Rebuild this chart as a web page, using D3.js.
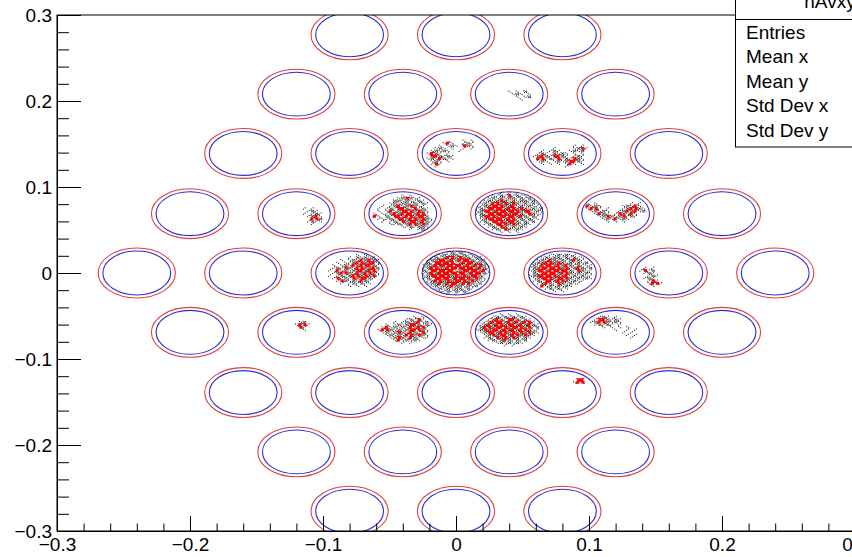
<!DOCTYPE html>
<html>
<head>
<meta charset="utf-8">
<script src="https://cdn.jsdelivr.net/npm/d3@7"></script>
<style>
body { margin: 0; background: #fff; }
svg { display: block; }
text { font-family: "Liberation Sans", Arial, sans-serif; }
</style>
</head>
<body>
<script>
// hexagonal cell layout (data units)
const rowY = [0.277, 0.208, 0.139, 0.069, 0, -0.069, -0.139, -0.208, -0.277]
const rowX = [
    [-0.08, 0, 0.08],
    [-0.12, -0.04, 0.04, 0.12],
    [-0.16, -0.08, 0, 0.08, 0.16],
    [-0.2, -0.12, -0.04, 0.04, 0.12, 0.2],
    [-0.24, -0.16, -0.08, 0, 0.08, 0.16, 0.24],
    [-0.2, -0.12, -0.04, 0.04, 0.12, 0.2],
    [-0.16, -0.08, 0, 0.08, 0.16],
    [-0.12, -0.04, 0.04, 0.12],
    [-0.08, 0, 0.08]
]
const outerR = 0.029
const innerR = 0.0255

const majorTicks = [-0.3, -0.2, -0.1, 0, 0.1, 0.2, 0.3]
const minorTicks = [-0.28, -0.26, -0.24, -0.22, -0.18, -0.16, -0.14, -0.12, -0.08, -0.06, -0.04, -0.02,
    0.02, 0.04, 0.06, 0.08, 0.12, 0.14, 0.16, 0.18, 0.22, 0.24, 0.26, 0.28]

const statsTitle = 'hAvxy'
const statsLabels = ['Entries', 'Mean x', 'Mean y', 'Std Dev x', 'Std Dev y']

// hit maps per cell, 0.003 bins around the cell centre
// '.' empty, ':' few hits, '#' many hits, 'r' red hits
const binW = 0.003
const hits = [
    { x: 0, y: 0, top: 0, rows: [
        "......:#:#:......",
        "...::#:##:#::....",
        "..:#:#rr#r##:#:..",
        ".:##rr#r#rrr#:#:.",
        ".#:rrrrr:#rrr##:.",
        ":##rrrrrrr#r#rr#:",
        ":#rr##rrrrrrr#r#:",
        "#:rrrrrr:#rrrr#r:",
        ":#r#rrrrrrr#rrr#:",
        ":#rrrrr#r#r#rr#:.",
        ":#:rrrr#rrrr#r#:.",
        ".:#rr#r#rrr#r#::.",
        ".:##r#rrr#rr#:#..",
        "..:#:##r##:#:#...",
        "...:#:#:##:#:....",
        "....::#:#:#:.....",
        "......:.:.:......"] },
    { x: -0.04, y: 0.069, top: 0, rows: [
        ".................",
        "........:.:......",
        ".......:#r#::....",
        "......##:#::#:...",
        ".....:#:##:#:#:..",
        "...:.:#r:#r#::...",
        "..:.:#:rr#:r:#:..",
        "..:.:r:#rrr#r#:..",
        ".:.::#r#rrr#rr:..",
        ".r:.#:rr#rr#rr#..",
        "..:::#:rr#rr#r#:.",
        "...:.:#:r#rr#r#:.",
        ".....::#:#rr#r#..",
        "........::#:##:..",
        "..........:.:#..."] },
    { x: 0.04, y: 0.069, top: 0, rows: [
        "......:.:.:......",
        "....::#:r:#::....",
        "...:#:#:##:#:#...",
        "..:#:#r#:#:##:#..",
        ".:#:rr#r#r#:#:#:.",
        ".:##rrr##r:#:#::.",
        ":#:rrrr#rr#r#:#:#.",
        ":#rr#rrrrrr#rr:#:",
        ":#:rrrrr#rr#:r#::",
        ".#rrr#rrrr#r#:#:.",
        ".:#rrrr#rr:#:#::.",
        ".:#:rrr#rr#:#:#..",
        "..:#:rrr#r#:#:...",
        "...:#:r#:#:#:....",
        "....:#:r#:#:.....",
        "......:.:.:......"] },
    { x: -0.08, y: 0, top: 0, rows: [
        ".................",
        "..........:.:....",
        "........:.#:#::..",
        "......:.:#:r#r#:.",
        ".....:.::#rr#rr:.",
        "....:.:#:r#rrr#:.",
        "....:#:r#:rr##r#.",
        "...:.r:#:#rr#rr:.",
        "....:#rr#:r#rr#:.",
        "...:.:#:#rr#r#r:.",
        "....:r:#:r#rr#:..",
        ".....:r#:#:r#:...",
        "......:.:#:#::...",
        "........:.:.:...."] },
    { x: 0.08, y: 0, top: 0, rows: [
        ".................",
        ".....::#:#::.....",
        "...:#:##:#:#::...",
        "..:#:r#:#:#r#:...",
        ".:##rr#r#:#:#:#..",
        ".#:rrr#r#r#:#:::.",
        ":##rrrrr#r:#r#:#.",
        ":#rr#rrrrr#:r#::.",
        ".#:rrrr#rr#:#:#:.",
        ":#rrrrr##r:#:#::.",
        ".:#rrr#rrr#:#:#:.",
        ".:#:rr#rr#:#::...",
        "..:#r#:r#:#::....",
        "...r:#:#:#:......",
        "....:#:#::.......",
        "......:.:........"] },
    { x: 0, y: 0.139, top: 3, rows: [
        "..........:.:....",
        ".....:r:..:#:....",
        "....:.:#:.r#:....",
        "...:#:.:..:.:....",
        "..:#:#:..:.......",
        ".:r#:.:..........",
        "..rr#:#:.........",
        ".:#:r#::.........",
        "..:#:.:..........",
        "..:r:............",
        "...:............."] },
    { x: 0.08, y: 0.139, top: 5, rows: [
        "...........:.:...",
        "......:....:#r:..",
        "...:.:#:..:#:#...",
        "..:#:.#:#:.:.:...",
        ".:#r#:rr#:.:#:...",
        "..rr:#:r:#:r#:...",
        "..:#:.:#:#rr#:...",
        "...:.:.:.:r:.:...",
        ".........:......."] },
    { x: 0.12, y: 0.069, top: 4, rows: [
        ".:.:........:.:..",
        ".r:#:.....:#:r:..",
        ".:rr:.:...:#rr#:.",
        "..:#:#:..:#r#r:#.",
        "...:r#:.:r#:r:...",
        "....:#r#:#r:#:...",
        ".....:#:r:#:.....",
        "......:.:.:......"] },
    { x: -0.12, y: 0.069, top: 6, rows: [
        "..........:.:....",
        "...........:#:...",
        "..........:.:#:..",
        "...........:#r:..",
        "............rr#..",
        "...........:#::..",
        "............:...."] },
    { x: 0.16, y: 0, top: 6, rows: [
        "..:.:............",
        ".:r:#............",
        "..:#:............",
        "...:#:...........",
        "..:#:............",
        "...:r:...........",
        "...:rr:..........",
        "....:............"] },
    { x: 0.04, y: 0.208, top: 7, rows: [
        "........:.:.#....",
        ".........:#:.:...",
        "..........:.:#...",
        "...........:....."] },
    { x: -0.12, y: -0.069, top: 4, rows: [
        ".........:#......",
        "........:rr:.....",
        ".........r:......",
        "..........:......"] },
    { x: -0.04, y: -0.069, top: 2, rows: [
        "...........:.:...",
        ".........:#:r:...",
        "......:.:#:#r:#..",
        "....:.:#:#rr#:#:.",
        "...:r:#:#:r#rr:..",
        "..:rr#:#:#rrr#:..",
        "...:#:#r#:r#:r:..",
        "....:#:#:rr#r#:..",
        ".....:#r#:r#:::..",
        "......:r:#:#:....",
        "........:.:......"] },
    { x: 0.04, y: -0.069, top: 1, rows: [
        "......:.:.:......",
        "....:#:#:#:#:....",
        "...:#r#:rr#:#:...",
        "..:#rrr#r#r#rr:..",
        ".:#r#rr#rr#r#r#:.",
        ".#rr#rrr#rrr#r:#.",
        ":#r#rr#rrr#rr#::.",
        ".:#rr#rr#r#r#r#:.",
        "..:#r#rr#rr#r#:..",
        "..:#:r#r#r#:#:...",
        "...:#:#r#:#:#....",
        ".....:#:#:#:.....",
        ".......:.:......."] },
    { x: 0.12, y: -0.069, top: 2, rows: [
        "....:#:.:........",
        "...:rr#:#:.......",
        "..:#rr#:#:.......",
        "...:#:#:.:.......",
        ".....:.:.:.:.....",
        "........:..:.:...",
        "..........:.:....",
        "...........:.:...",
        "............:...."] },
    { x: 0.08, y: -0.139, top: 3, rows: [
        "............rr...",
        "...........:rr..."] }
]

const width = 852
const height = 557
const frame = { left: 57, top: 15, right: 855, bottom: 531 }

const svg = d3.select('body')
    .append('svg')
    .attr('width', width)
    .attr('height', height)

const x = d3.scaleLinear().domain([-0.3, 0.3]).range([frame.left, frame.right])
const y = d3.scaleLinear().domain([-0.3, 0.3]).range([frame.bottom, frame.top])

svg.append('clipPath')
    .attr('id', 'frameClip')
    .append('rect')
    .attr('x', frame.left)
    .attr('y', frame.top)
    .attr('width', frame.right - frame.left)
    .attr('height', frame.bottom - frame.top)

const plot = svg.append('g').attr('clip-path', 'url(#frameClip)')

// cells
let cells = []
rowY.forEach((cy, i) => rowX[i].forEach(cx => cells.push({ x: cx, y: cy })))

const rx = r => x(r) - x(0)
const ry = r => y(0) - y(r)

plot.selectAll('.outer')
    .data(cells)
    .enter()
    .append('ellipse')
    .attr('class', 'outer')
    .attr('cx', d => x(d.x))
    .attr('cy', d => y(d.y))
    .attr('rx', rx(outerR))
    .attr('ry', ry(outerR))
    .attr('fill', 'none')
    .attr('stroke', '#dd4040')
    .attr('stroke-width', 1.1)

plot.selectAll('.inner')
    .data(cells)
    .enter()
    .append('ellipse')
    .attr('class', 'inner')
    .attr('cx', d => x(d.x))
    .attr('cy', d => y(d.y))
    .attr('rx', rx(innerR))
    .attr('ry', ry(innerR))
    .attr('fill', 'none')
    .attr('stroke', '#2f2fd0')
    .attr('stroke-width', 1.1)

// hits: each bin is drawn as a little group of 1px dots, red bins as squares
const spotA = [[-0.9, -0.5], [1.0, 0.6]]
const spotB = [[0.8, -0.7], [-1.0, 0.6]]
const dense = [[-1.3, -0.8], [1.2, -0.5], [-0.7, 0.8], [1.4, 0.9], [0.1, 0]]
let black = []
let red = []
hits.forEach(h => {
    h.rows.forEach((row, k) => {
        const r = k + h.top
        for (let c = 0; c < row.length; c++) {
            const ch = row[c]
            if (ch === '.') continue
            const px = x(h.x + (c - 8) * binW)
            const py = y(h.y + (8 - r) * binW)
            const spot = (c + r) % 2 ? spotA : spotB
            if (ch === ':') {
                spot.forEach(o => black.push([px + o[0], py + o[1]]))
            } else if (ch === '#') {
                dense.forEach(o => black.push([px + o[0], py + o[1]]))
            } else if (ch === 'r') {
                spot.forEach(o => black.push([px + o[0] * 1.8, py + o[1] * 1.8]))
                red.push([px + ((c + r) % 2 ? 0.5 : -0.5), py])
            }
        }
    })
})

plot.selectAll('.hit')
    .data(black)
    .enter()
    .append('rect')
    .attr('class', 'hit')
    .attr('x', d => d[0] - 0.5)
    .attr('y', d => d[1] - 0.5)
    .attr('width', 1)
    .attr('height', 1)
    .attr('fill', '#111')

plot.selectAll('.redhit')
    .data(red)
    .enter()
    .append('rect')
    .attr('class', 'redhit')
    .attr('x', d => d[0] - 1.6)
    .attr('y', d => d[1] - 1.5)
    .attr('width', 3.2)
    .attr('height', 3)
    .attr('fill', '#f00')

// axes
const fmt = d => d === 0 ? '0' : d3.format('.1f')(d)

svg.append('g')
    .attr('transform', 'translate(0,' + frame.bottom + ')')
    .call(d3.axisBottom(x).tickValues(majorTicks).tickSize(-15).tickSizeOuter(0).tickPadding(7).tickFormat(fmt))
svg.append('g')
    .attr('transform', 'translate(0,' + frame.bottom + ')')
    .call(d3.axisBottom(x).tickValues(minorTicks).tickSize(-7.5).tickSizeOuter(0).tickFormat(''))
    .call(g => g.select('.domain').remove())

svg.append('g')
    .attr('transform', 'translate(' + frame.left + ',0)')
    .call(d3.axisLeft(y).tickValues(majorTicks).tickSize(-24).tickSizeOuter(0).tickPadding(5).tickFormat(fmt))
svg.append('g')
    .attr('transform', 'translate(' + frame.left + ',0)')
    .call(d3.axisLeft(y).tickValues(minorTicks).tickSize(-12).tickSizeOuter(0).tickFormat(''))
    .call(g => g.select('.domain').remove())

svg.selectAll('.tick text')
    .attr('font-size', 19)
    .attr('font-family', '"Liberation Sans", Arial, sans-serif')
    .attr('fill', '#000')
svg.selectAll('.tick line').attr('stroke', '#000')

svg.append('rect')
    .attr('x', frame.left)
    .attr('y', frame.top)
    .attr('width', frame.right - frame.left)
    .attr('height', frame.bottom - frame.top)
    .attr('fill', 'none')
    .attr('stroke', '#000')
    .attr('stroke-width', 1)

// stats box
const box = svg.append('g')
box.append('rect')
    .attr('x', 735.5)
    .attr('y', -2)
    .attr('width', 190)
    .attr('height', 149)
    .attr('fill', '#fff')
    .attr('stroke', '#000')
box.append('line')
    .attr('x1', 735.5)
    .attr('x2', 925)
    .attr('y1', 19.5)
    .attr('y2', 19.5)
    .attr('stroke', '#000')
box.append('text')
    .attr('x', 830)
    .attr('y', 8)
    .attr('text-anchor', 'middle')
    .attr('font-size', 19)
    .text(statsTitle)
box.selectAll('.label')
    .data(statsLabels)
    .enter()
    .append('text')
    .attr('class', 'label')
    .attr('x', 746)
    .attr('y', (d, i) => 39 + i * 24.4)
    .attr('font-size', 19)
    .text(d => d)
</script>
</body>
</html>
